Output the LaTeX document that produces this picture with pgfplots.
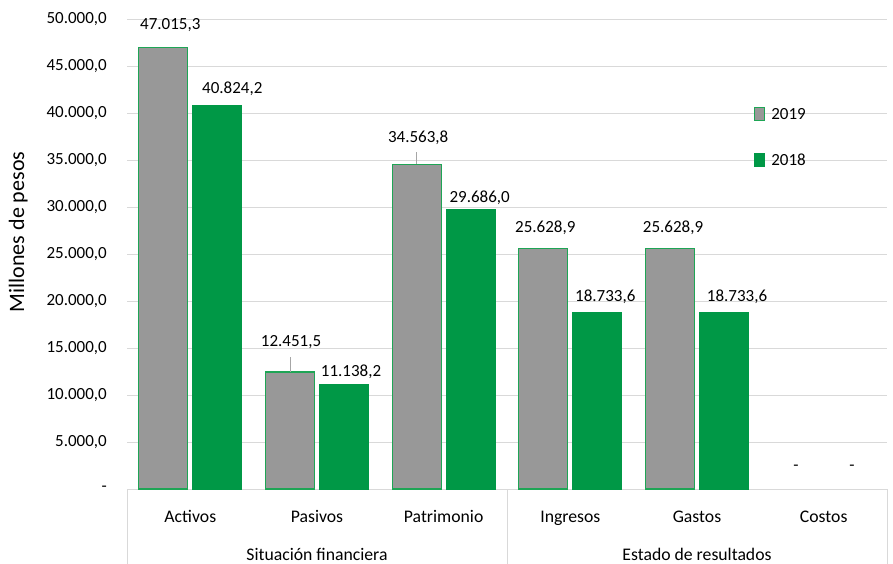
\documentclass[border=0pt]{standalone}
\usepackage{pgfplots}
\pgfplotsset{compat=1.18}
\usepackage{pgfplotstable}
\usepackage{fontspec}
\setmainfont{Carlito}
\definecolor{cgreen}{RGB}{0,152,70}
\definecolor{cedge}{RGB}{30,165,85}
\definecolor{cgray}{RGB}{152,152,152}
\definecolor{gridgray}{RGB}{217,217,217}
\definecolor{leader}{RGB}{166,166,166}
\newcommand\fs{\fontsize{17}{20}\selectfont}
\newcommand\fc{\fontsize{17.7}{21}\selectfont}
\pgfplotstableread{
x y dx dy lab
0 47015.3 7 22 47.015,3
1 12451.5 1 30 12.451,5
2 34563.8 1.5 26.5 34.563,8
3 25628.9 2 20 25.628,9
4 25628.9 3 20 25.628,9
}\tabA
\pgfplotstableread{
x y dx dy lab
0 40824.2 15 16 40.824,2
1 11138.2 7 13 11.138,2
2 29686.0 9 12.5 29.686,0
3 18733.6 8 16 18.733,6
4 18733.6 13 16 18.733,6
}\tabB
\begin{document}
\begin{tikzpicture}
\path[use as bounding box] (0,0) rectangle (893pt,563pt);
\begin{axis}[
  width=760pt, height=470pt, scale only axis,
  at={(127pt,74pt)}, anchor=south west,
  xmin=-0.5, xmax=5.5, ymin=0, ymax=50000,
  scaled y ticks=false,
  ybar=5pt, bar width=49pt,
  xtick={0,...,5},
  xticklabels={Activos,Pasivos,Patrimonio,Ingresos,Gastos,Costos},
  ytick={0,5000,...,50000},
  yticklabels={-,{5.000,0},{10.000,0},{15.000,0},{20.000,0},{25.000,0},{30.000,0},{35.000,0},{40.000,0},{45.000,0},{50.000,0}},
  major tick length=0pt,
  axis line style={draw=none},
  ymajorgrids, grid style={gridgray, line width=0.9pt},
  tick label style={font=\fs, inner sep=0pt, text=black},
  yticklabel style={anchor=east, xshift=-20pt},
  xticklabel style={anchor=base, yshift=-33.5pt, font=\fc},
  ylabel={Millones de pesos},
  ylabel style={font=\fontsize{22}{26}\selectfont, at={(axis description cs:-0.143,0.547)}, anchor=center},
  clip=false,
  legend cell align=left,
  legend style={at={(0.825,0.748)}, anchor=west, draw=none, fill=none, inner sep=0pt, font=\fs, row sep=32pt, nodes={inner sep=0pt}},
  legend image code/.code={\path[#1] (0pt,-6.5pt) rectangle (10pt,6.5pt); \path (16pt,0pt);},
  point meta=explicit symbolic,
  nodes near coords={\pgfplotspointmeta},
  visualization depends on={\thisrow{dx} \as \dx},
  visualization depends on={\thisrow{dy} \as \dy},
  every node near coord/.append style={font=\fs, anchor=center, xshift=\dx pt, yshift=\dy pt, text=black, inner sep=0pt},
]
\addplot[fill=cgray, draw=cedge, line width=1.1pt] table[x=x,y=y,meta=lab]{\tabA};
\addplot[fill=cgreen, draw=cgreen, line width=1pt] table[x=x,y=y,meta=lab]{\tabB};
\legend{2019,2018}
\draw[leader, line width=0.8pt] (axis cs:1,12451.5) ++(-27pt,0pt) -- ++(0pt,15pt);
\draw[leader, line width=0.8pt] (axis cs:2,34563.8) ++(-27pt,0pt) -- ++(0pt,12pt);
\node[font=\fs, inner sep=0pt] at (axis cs:5,0) [xshift=-27.7pt, yshift=21pt] {-};
\node[font=\fs, inner sep=0pt] at (axis cs:5,0) [xshift=28.3pt, yshift=21pt] {-};
\draw[gridgray, line width=0.9pt] (axis cs:-0.5,0) -- ++(0pt,-80pt);
\draw[gridgray, line width=0.9pt] (axis cs:2.5,0) -- ++(0pt,-80pt);
\draw[gridgray, line width=0.9pt] (axis cs:5.5,0) -- ++(0pt,-80pt);
\node[font=\fc, anchor=base, inner sep=0pt] at (axis cs:1,0) [yshift=-71pt] {Situación financiera};
\node[font=\fc, anchor=base, inner sep=0pt] at (axis cs:4,0) [yshift=-71pt] {Estado de resultados};
\end{axis}
\end{tikzpicture}
\end{document}
